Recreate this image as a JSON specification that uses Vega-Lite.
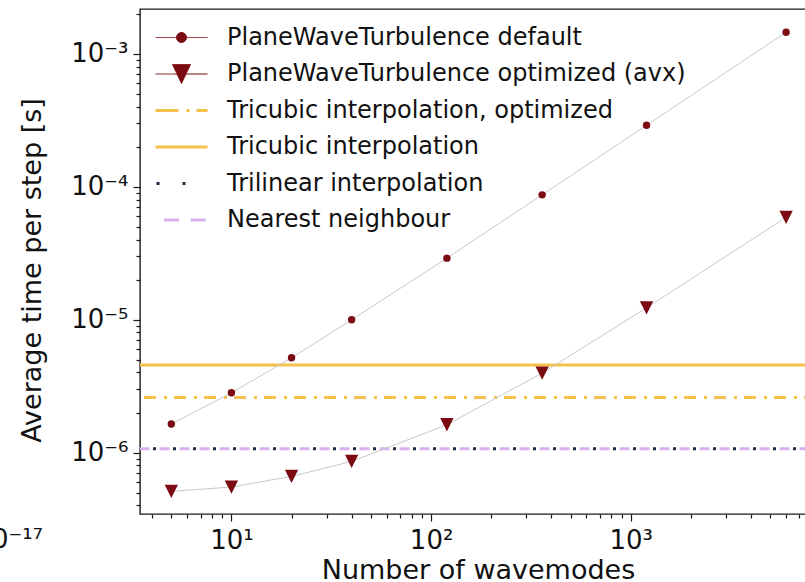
{
  "$schema": "https://vega.github.io/schema/vega-lite/v6.json",
  "width": 676,
  "height": 505,
  "autosize": "none",
  "padding": {"left": 140, "top": 9, "right": -11, "bottom": 68},
  "background": "white",
  "title": {
    "text": "10⁻¹⁷",
    "orient": "top",
    "anchor": "start",
    "frame": "group",
    "align": "right",
    "baseline": "alphabetic",
    "offset": 0,
    "dx": -97,
    "dy": 565,
    "font": "DejaVu Sans",
    "fontSize": 26,
    "fontWeight": "normal",
    "color": "#111111"
  },
  "config": {
    "font": "DejaVu Sans",
    "view": {"stroke": "#1a1a1a", "strokeWidth": 1.4},
    "axis": {
      "grid": false,
      "domain": false,
      "tickColor": "#1a1a1a",
      "tickWidth": 1.2,
      "labelColor": "#111111",
      "titleColor": "#111111",
      "labelFont": "DejaVu Sans",
      "titleFont": "DejaVu Sans",
      "titleFontWeight": "normal",
      "labelFontSize": 26,
      "titleFontSize": 27,
      "labelOverlap": false,
      "labelBound": false,
      "labelFlush": false
    }
  },
  "datasets": {
    "perf": [
      {"series": "PlaneWaveTurbulence default", "modes": 5, "time": 1.638e-6},
      {"series": "PlaneWaveTurbulence default", "modes": 10, "time": 2.815e-6},
      {"series": "PlaneWaveTurbulence default", "modes": 20, "time": 5.16e-6},
      {"series": "PlaneWaveTurbulence default", "modes": 40, "time": 9.97e-6},
      {"series": "PlaneWaveTurbulence default", "modes": 120, "time": 2.90e-5},
      {"series": "PlaneWaveTurbulence default", "modes": 360, "time": 8.68e-5},
      {"series": "PlaneWaveTurbulence default", "modes": 1200, "time": 2.90e-4},
      {"series": "PlaneWaveTurbulence default", "modes": 6000, "time": 1.451e-3},
      {"series": "PlaneWaveTurbulence optimized (avx)", "modes": 5, "time": 5.10e-7},
      {"series": "PlaneWaveTurbulence optimized (avx)", "modes": 10, "time": 5.50e-7},
      {"series": "PlaneWaveTurbulence optimized (avx)", "modes": 20, "time": 6.61e-7},
      {"series": "PlaneWaveTurbulence optimized (avx)", "modes": 40, "time": 8.57e-7},
      {"series": "PlaneWaveTurbulence optimized (avx)", "modes": 120, "time": 1.618e-6},
      {"series": "PlaneWaveTurbulence optimized (avx)", "modes": 360, "time": 3.96e-6},
      {"series": "PlaneWaveTurbulence optimized (avx)", "modes": 1200, "time": 1.227e-5},
      {"series": "PlaneWaveTurbulence optimized (avx)", "modes": 6000, "time": 5.88e-5}
    ],
    "ref": [
      {"series": "Tricubic interpolation, optimized", "time": 2.596e-6},
      {"series": "Tricubic interpolation", "time": 4.557e-6},
      {"series": "Trilinear interpolation", "time": 1.068e-6},
      {"series": "Nearest neighbour", "time": 1.068e-6}
    ]
  },
  "layer": [
    {
      "data": {"name": "ref"},
      "transform": [{"filter": "datum.series == 'Tricubic interpolation'"}],
      "mark": {"type": "rule", "strokeWidth": 3},
      "encoding": {
        "y": {
          "field": "time", "type": "quantitative",
          "scale": {"type": "log", "domain": [3.447e-7, 2.172e-3], "nice": false},
          "axis": {
            "orient": "left",
            "values": [1e-6, 1e-5, 1e-4, 1e-3],
            "labelExpr": "datum.value >= 5e-4 ? '10⁻³' : datum.value >= 5e-5 ? '10⁻⁴' : datum.value >= 5e-6 ? '10⁻⁵' : '10⁻⁶'",
            "tickSize": 7,
            "labelPadding": 5,
            "title": "Average time per step [s]",
            "titleX": -100,
            "titleY": 261,
            "titleBaseline": "alphabetic"
          }
        },
        "color": {
          "field": "series", "type": "nominal",
          "scale": {
            "domain": ["PlaneWaveTurbulence default", "PlaneWaveTurbulence optimized (avx)", "Tricubic interpolation, optimized", "Tricubic interpolation", "Trilinear interpolation", "Nearest neighbour"],
            "range": ["#7b0a12", "#7b0a12", "#f6c14b", "#f6c14b", "#1e2a44", "#d8b0ee"]
          },
          "legend": {
            "title": null,
            "orient": "none",
            "legendX": 29.5,
            "legendY": 16.5,
            "padding": 0,
            "labelFont": "DejaVu Sans",
            "labelFontSize": 24,
            "labelColor": "#111111",
            "labelLimit": 600,
            "labelOffset": 33.5,
            "symbolSize": 100,
            "symbolStrokeWidth": 1,
            "rowPadding": 12.5,
            "encode": {
              "symbols": {
                "update": {
                  "shape": {"signal": "['M-5.2,0H-1M1,0H5.2M1,0A1,1 0 1,1 -1,0A1,1 0 1,1 1,0Z', 'M-5.2,0H-0.9M0.9,0H5.2M-1.8,-1.9L1.8,-1.9L0,1.9Z', 'M-5.2,0H5.2', 'M-5.2,0H5.2', 'M-5.2,0H5.2', 'M-5.2,0H5.2'][datum.index]"},
                  "fill": {"signal": "datum.index < 2 ? '#7b0a12' : 'transparent'"},
                  "stroke": {"signal": "['#c4c4c4', '#c4c4c4', '#f6c14b', '#f6c14b', '#1e2a44', '#d8b0ee'][datum.index]"},
                  "strokeWidth": {"signal": "datum.index < 2 ? 1 : 3"},
                  "strokeDash": {"signal": "[[1,0],[1,0],[23,8,3,7],[1,0],[3,23],[15,11.7]][datum.index]"},
                  "strokeDashOffset": {"signal": "[0,0,0,0,25,18.2][datum.index]"},
                  "opacity": {"value": 1},
                  "size": {"value": 100}
                }
              }
            }
          }
        }
      }
    },
    {
      "data": {"name": "ref"},
      "transform": [{"filter": "datum.series == 'Tricubic interpolation, optimized'"}],
      "mark": {"type": "rule", "strokeWidth": 3, "strokeDash": [12, 7, 3, 8]},
      "encoding": {
        "y": {"field": "time", "type": "quantitative", "scale": {"type": "log", "domain": [3.447e-7, 2.172e-3], "nice": false}, "axis": null},
        "color": {"field": "series", "type": "nominal"}
      }
    },
    {
      "data": {"name": "ref"},
      "transform": [{"filter": "datum.series == 'Nearest neighbour'"}],
      "mark": {"type": "rule", "strokeWidth": 3, "strokeDash": [10, 10], "strokeDashOffset": 13.5},
      "encoding": {
        "y": {"field": "time", "type": "quantitative", "scale": {"type": "log", "domain": [3.447e-7, 2.172e-3], "nice": false}, "axis": null},
        "color": {"field": "series", "type": "nominal"}
      }
    },
    {
      "data": {"name": "ref"},
      "transform": [{"filter": "datum.series == 'Trilinear interpolation'"}],
      "mark": {"type": "rule", "strokeWidth": 3, "strokeDash": [3, 17], "strokeDashOffset": 0},
      "encoding": {
        "y": {"field": "time", "type": "quantitative", "scale": {"type": "log", "domain": [3.447e-7, 2.172e-3], "nice": false}, "axis": null},
        "color": {"field": "series", "type": "nominal"}
      }
    },
    {
      "data": {"name": "perf"},
      "mark": {"type": "line", "color": "#c8c8c8", "strokeWidth": 1},
      "encoding": {
        "x": {
          "field": "modes", "type": "quantitative",
          "scale": {"type": "log", "domain": [3.484, 8470], "nice": false},
          "axis": {
            "orient": "bottom",
            "values": [4, 5, 6, 7, 8, 9, 20, 30, 40, 50, 60, 70, 80, 90, 200, 300, 400, 500, 600, 700, 800, 900, 2000, 3000, 4000, 5000, 6000, 7000, 8000],
            "labels": false, "tickSize": 4, "title": null
          }
        },
        "y": {
          "field": "time", "type": "quantitative",
          "scale": {"type": "log", "domain": [3.447e-7, 2.172e-3], "nice": false},
          "axis": {
            "orient": "left",
            "values": [4e-7, 5e-7, 6e-7, 7e-7, 8e-7, 9e-7, 2e-6, 3e-6, 4e-6, 5e-6, 6e-6, 7e-6, 8e-6, 9e-6, 2e-5, 3e-5, 4e-5, 5e-5, 6e-5, 7e-5, 8e-5, 9e-5, 2e-4, 3e-4, 4e-4, 5e-4, 6e-4, 7e-4, 8e-4, 9e-4, 2e-3],
            "labels": false, "tickSize": 4, "title": null
          }
        },
        "detail": {"field": "series", "type": "nominal"}
      }
    },
    {
      "data": {"name": "perf"},
      "mark": {"type": "point", "filled": true, "opacity": 1},
      "encoding": {
        "x": {
          "field": "modes", "type": "quantitative",
          "scale": {"type": "log", "domain": [3.484, 8470], "nice": false},
          "axis": {
            "orient": "bottom",
            "values": [10, 100, 1000],
            "labelExpr": "datum.value < 50 ? '10¹' : datum.value < 500 ? '10²' : '10³'",
            "tickSize": 7,
            "labelPadding": 6,
            "title": "Number of wavemodes",
            "titleY": 64,
            "titleBaseline": "alphabetic"
          }
        },
        "y": {
          "field": "time", "type": "quantitative",
          "scale": {"type": "log", "domain": [3.447e-7, 2.172e-3], "nice": false},
          "axis": null
        },
        "shape": {
          "field": "series", "type": "nominal",
          "scale": {"domain": ["PlaneWaveTurbulence default", "PlaneWaveTurbulence optimized (avx)"], "range": ["circle", "M-1,-1L1,-1L0,1Z"]},
          "legend": null
        },
        "size": {
          "field": "series", "type": "nominal",
          "scale": {"domain": ["PlaneWaveTurbulence default", "PlaneWaveTurbulence optimized (avx)"], "range": [55, 177]},
          "legend": null
        },
        "color": {"field": "series", "type": "nominal"}
      }
    }
  ],
  "resolve": {"axis": {"x": "independent", "y": "independent"}}
}
